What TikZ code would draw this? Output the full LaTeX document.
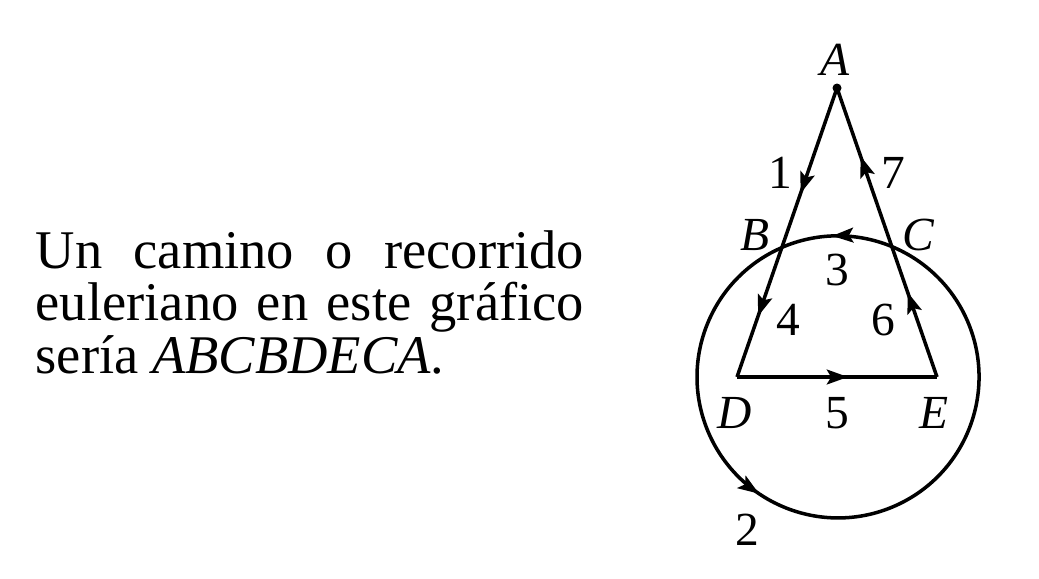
\documentclass[tikz,border=0pt]{standalone}
\usepackage{fontspec}
\setmainfont{Liberation Serif}
\usetikzlibrary{arrows.meta, decorations.markings, intersections}
\tikzset{
  edge/.style={line width=1pt},
  midtip/.style={postaction={decorate, decoration={markings,
      mark=at position #1 with {\arrow{Stealth[length=6pt,width=4.2pt,inset=1.2pt]}}}}},
  vlabel/.style={font=\fontsize{13.5}{13.5}\selectfont\itshape, inner sep=0pt},
  nlabel/.style={font=\fontsize{13.5}{13.5}\selectfont, inner sep=0pt},
}

\begin{document}
\begin{tikzpicture}[x=0.01cm, y=0.01cm]
\useasboundingbox (0,0) rectangle (1039,578);

% texto
\node (txt) [anchor=north west, inner sep=0pt, align=left, font=\fontsize{15.5}{14.9}\selectfont] at (35,348)
  {\makebox[5.48cm][s]{Un camino o recorrido}\\
   \makebox[5.48cm][s]{euleriano en este gráfico}\\
   sería \textit{ABCBDECA}.};

% vertices
\coordinate (A) at (837,490);
\coordinate (D) at (737,201);
\coordinate (E) at (937,201);
\coordinate (O) at (838,201);
\path[name path=ring] (O) circle[radius=141];
\path[name path=ad] (A) -- (D);
\path[name path=ae] (A) -- (E);
\path[name intersections={of=ring and ad, by=B}];
\path[name intersections={of=ring and ae, by=C}];

% recorrido
\draw[edge, midtip=0.66] (A) -- (B);
\draw[edge, midtip=0.39] (B) arc[start angle=113.5, end angle=427.5, radius=141];
\draw[edge, midtip=0.54] (C) arc[start angle=67.5, end angle=113.5, radius=141];
\draw[edge, midtip=0.53] (B) -- (D);
\draw[edge, midtip=0.555] (D) -- (E);
\draw[edge, midtip=0.65] (E) -- (C);
\draw[edge, midtip=0.57] (C) -- (A);
\fill (A) circle[radius=4.5];

% etiquetas
\node (labA) [vlabel] at (835,518) {A};
\node (labB) [vlabel] at (755,343) {B};
\node (labC) [vlabel] at (918,343) {C};
\node (labD) [vlabel] at (735,165) {D};
\node (labE) [vlabel] at (934,165) {E};
\node (n1) [nlabel] at (780,405) {1};
\node (n2) [nlabel] at (747,48) {2};
\node (n3) [nlabel] at (837,308) {3};
\node (n4) [nlabel] at (788,258) {4};
\node (n5) [nlabel] at (837,165) {5};
\node (n6) [nlabel] at (883,258) {6};
\node (n7) [nlabel] at (893,405) {7};
\end{tikzpicture}
\end{document}
